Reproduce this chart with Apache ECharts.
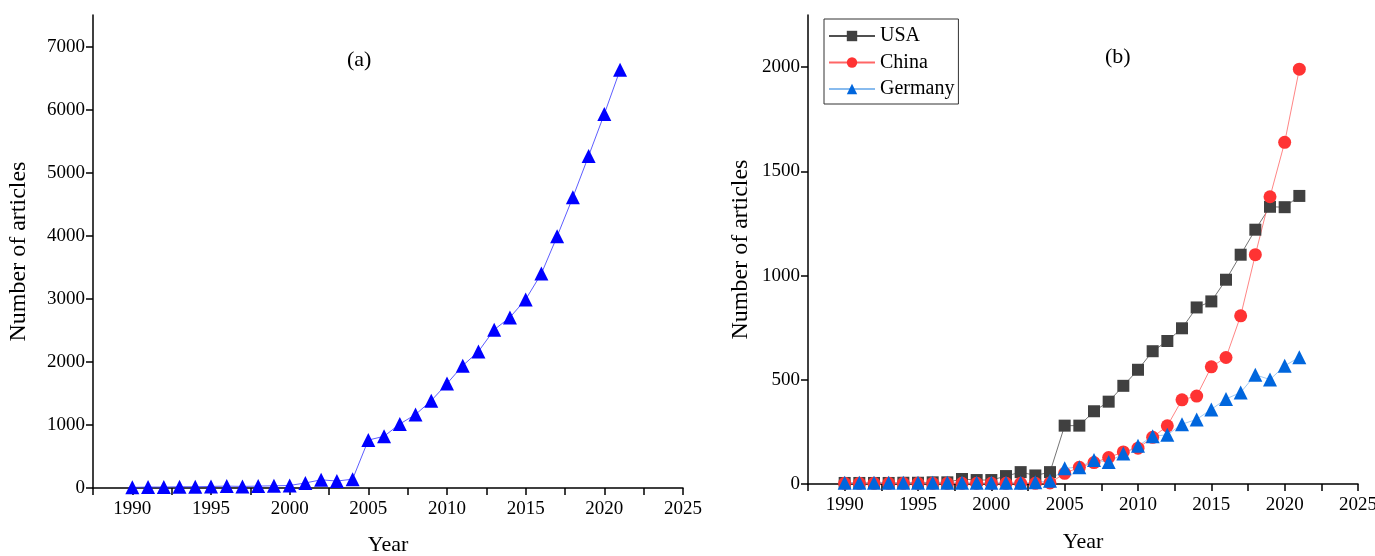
<!DOCTYPE html>
<html>
<head>
<meta charset="utf-8">
<title>Number of articles per year</title>
<script src="https://cdn.jsdelivr.net/npm/echarts@6/dist/echarts.min.js"></script>
<style>
  html, body { margin: 0; padding: 0; background: #fff; }
  #chart { width: 1375px; height: 556px; }
</style>
</head>
<body>
<div id="chart"></div>
<script>
const years = [1990, 1991, 1992, 1993, 1994, 1995, 1996, 1997, 1998, 1999, 2000,
  2001, 2002, 2003, 2004, 2005, 2006, 2007, 2008, 2009, 2010,
  2011, 2012, 2013, 2014, 2015, 2016, 2017, 2018, 2019, 2020, 2021]

// (a) all articles
const totalArticles = [10, 15, 15, 20, 20, 25, 30, 25, 30, 35, 40,
  80, 130, 110, 140, 760, 820, 1015, 1165, 1385, 1655,
  1940, 2165, 2510, 2705, 2990, 3400, 3990, 4610, 5265, 5930, 6630]

// (b) by country
const usaArticles = [5, 5, 5, 5, 6, 6, 8, 8, 24, 19, 19,
  38, 57, 41, 57, 280, 280, 349, 395, 471, 548,
  637, 686, 747, 847, 876, 980, 1100, 1220, 1330, 1328, 1382]
const chinaArticles = [3, 3, 3, 3, 3, 3, 3, 3, 3, 3, 3,
  3, 3, 3, 5, 51, 80, 103, 127, 154, 172,
  224, 279, 404, 422, 562, 607, 807, 1100, 1378, 1639, 1990]
const germanyArticles = [6, 6, 6, 6, 6, 6, 6, 6, 6, 6, 6,
  6, 6, 8, 15, 76, 80, 115, 105, 146, 183,
  229, 236, 287, 310, 358, 408, 439, 524, 501, 567, 608]

const xTicks = [1990, 1995, 2000, 2005, 2010, 2015, 2020, 2025]

const FONT = 'Liberation Serif'

function pairs(vals) {
  return years.map((y, i) => [y, vals[i]])
}

function xAxisOf(gridIndex, gap) {
  return {
    type: 'value',
    gridIndex: gridIndex,
    min: 1987.5,
    max: 2025,
    interval: 2.5,
    name: 'Year',
    nameLocation: 'middle',
    nameGap: gap,
    nameTextStyle: { fontFamily: FONT, fontSize: 22, color: '#000' },
    axisLine: { show: true, lineStyle: { color: '#000', width: 1.5 } },
    // 刻度, 次刻度用空标签
    axisTick: {
      show: true,
      length: 7,
      lineStyle: { color: '#000', width: 1.5 }
    },
    // 刻度文字
    axisLabel: {
      color: '#000',
      fontFamily: FONT,
      fontSize: 19,
      margin: 12,
      formatter: v => (xTicks.indexOf(v) >= 0 ? String(v) : '')
    },
    splitLine: { show: false }
  }
}

function yAxisOf(gridIndex, max, interval, gap) {
  return {
    type: 'value',
    gridIndex: gridIndex,
    min: 0,
    max: max,
    interval: interval,
    name: 'Number of articles',
    nameLocation: 'middle',
    nameGap: gap,
    nameTextStyle: { fontFamily: FONT, fontSize: 24, color: '#000' },
    axisLine: { show: true, lineStyle: { color: '#000', width: 1.5 } },
    axisTick: {
      show: true,
      length: 7,
      lineStyle: { color: '#000', width: 1.5 }
    },
    axisLabel: {
      color: '#000',
      fontFamily: FONT,
      fontSize: 19,
      margin: 8,
      showMaxLabel: false,
      formatter: v => String(v)
    },
    splitLine: { show: false }
  }
}

const chart = echarts.init(document.getElementById('chart'))
chart.setOption({
  animation: false,
  backgroundColor: '#fff',
  grid: [
    { left: 93, top: 15, width: 590, height: 473, outerBoundsMode: 'none', containLabel: false },
    { left: 808, top: 15, width: 550, height: 469, outerBoundsMode: 'none', containLabel: false }
  ],
  legend: {
    left: 824,
    top: 19,
    orient: 'vertical',
    backgroundColor: '#fff',
    borderColor: '#333',
    borderWidth: 1,
    borderRadius: 0,
    padding: [7, 4, 5, 4],
    itemGap: 6.5,
    itemWidth: 46,
    itemHeight: 13,
    textStyle: { fontFamily: FONT, fontSize: 20, color: '#000' },
    data: ['USA', 'China', 'Germany']
  },
  graphic: [
    {
      type: 'text',
      left: 347,
      top: 49,
      style: { text: '(a)', font: '22px ' + FONT, fill: '#000' }
    },
    {
      type: 'text',
      left: 1105,
      top: 46,
      style: { text: '(b)', font: '22px ' + FONT, fill: '#000' }
    }
  ],
  xAxis: [xAxisOf(0, 46), xAxisOf(1, 47)],
  yAxis: [yAxisOf(0, 7500, 1000, 62), yAxisOf(1, 2250, 500, 55)],
  series: [
    {
      name: 'Total',
      type: 'line',
      xAxisIndex: 0,
      yAxisIndex: 0,
      data: pairs(totalArticles),
      symbol: 'triangle',
      symbolSize: 14,
      itemStyle: { color: '#0000ff' },
      lineStyle: { color: '#3333ff', width: 0.8 }
    },
    {
      name: 'USA',
      type: 'line',
      xAxisIndex: 1,
      yAxisIndex: 1,
      data: pairs(usaArticles),
      symbol: 'rect',
      symbolSize: 12,
      itemStyle: { color: '#404040' },
      lineStyle: { color: '#505050', width: 0.8 }
    },
    {
      name: 'China',
      type: 'line',
      xAxisIndex: 1,
      yAxisIndex: 1,
      data: pairs(chinaArticles),
      symbol: 'circle',
      symbolSize: 13,
      itemStyle: { color: '#ff3333' },
      lineStyle: { color: '#ff6666', width: 0.8 }
    },
    {
      name: 'Germany',
      type: 'line',
      xAxisIndex: 1,
      yAxisIndex: 1,
      data: pairs(germanyArticles),
      symbol: 'triangle',
      symbolSize: 14,
      itemStyle: { color: '#0066dd' },
      lineStyle: { color: '#88bbee', width: 0.8 }
    }
  ]
})
</script>
</body>
</html>
